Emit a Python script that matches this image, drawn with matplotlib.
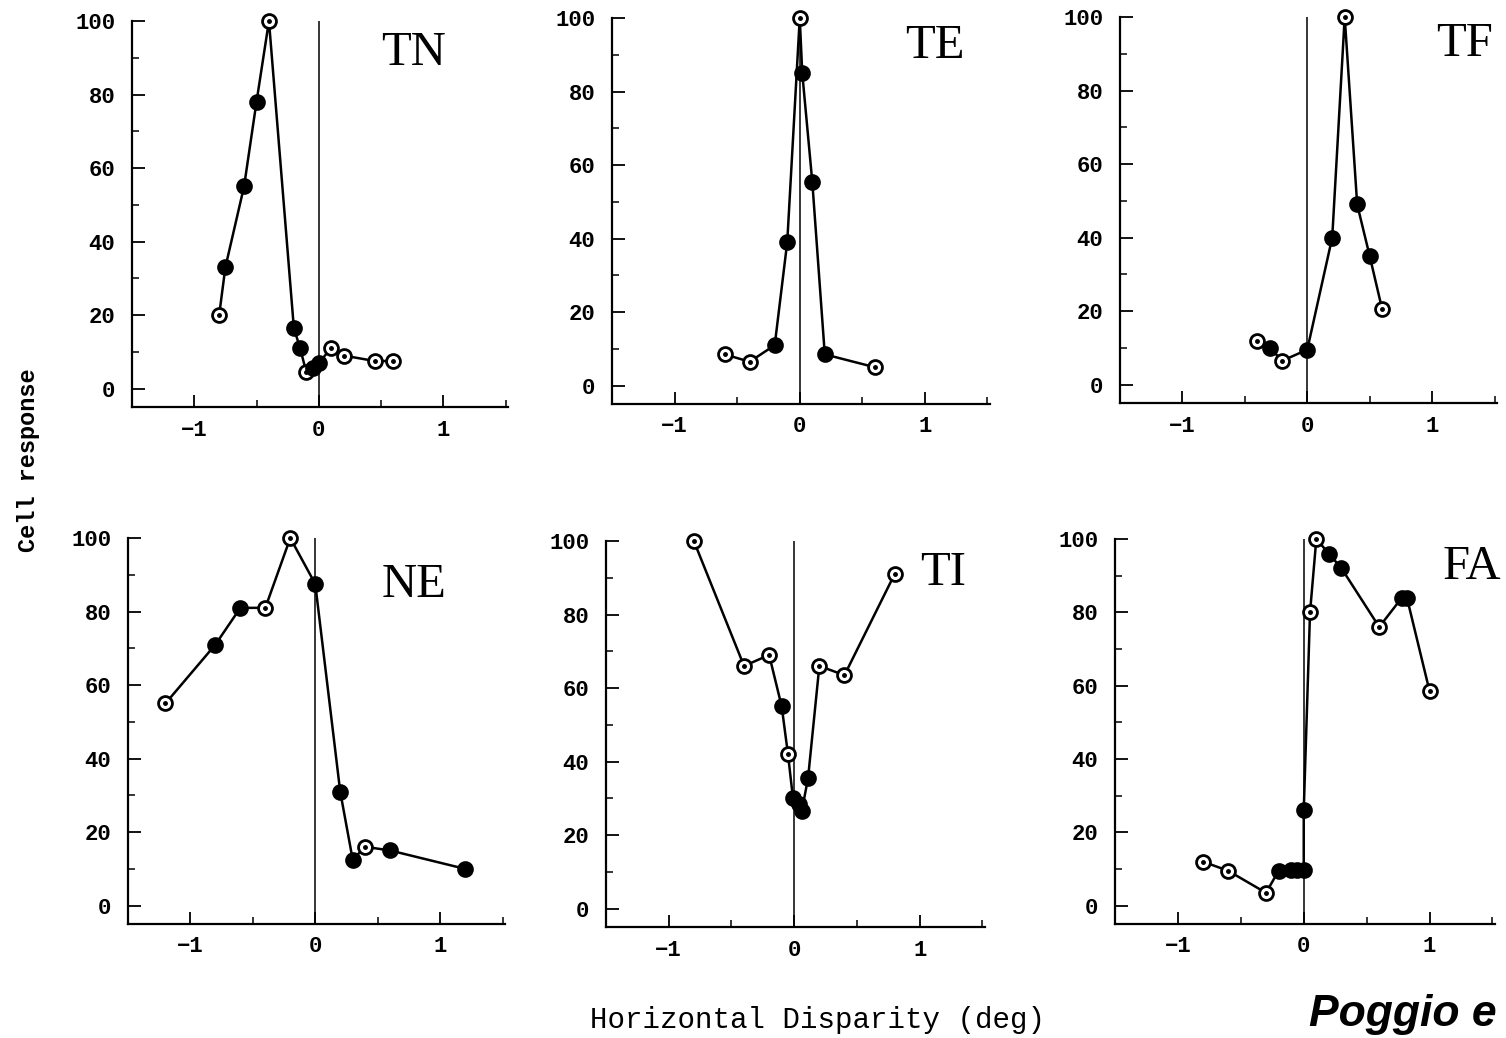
import matplotlib
matplotlib.use("Agg")
import matplotlib.pyplot as plt
from matplotlib.ticker import MultipleLocator

# TN
tn_x = [-0.80, -0.75, -0.60, -0.50, -0.40, -0.20, -0.15, -0.10, -0.05, 0.00, 0.10, 0.20, 0.45, 0.60]
tn_y = [20, 33, 55, 78, 100, 16.5, 11, 4.5, 5.5, 7, 11, 9, 7.5, 7.5]
tn_fill = [0, 1, 1, 1, 0, 1, 1, 0, 1, 1, 0, 0, 0, 0]
# TE
te_x = [-0.60, -0.40, -0.20, -0.10, 0.00, 0.02, 0.10, 0.20, 0.60]
te_y = [8.5, 6.5, 11, 39, 100, 85, 55.5, 8.5, 5]
te_fill = [0, 0, 1, 1, 0, 1, 1, 1, 0]
# TF
tf_x = [-0.40, -0.30, -0.20, 0.00, 0.20, 0.30, 0.40, 0.50, 0.60]
tf_y = [12, 10, 6.5, 9.5, 40, 100, 49, 35, 20.5]
tf_fill = [0, 1, 0, 1, 1, 0, 1, 1, 0]
# NE
ne_x = [-1.20, -0.80, -0.60, -0.40, -0.20, 0.00, 0.20, 0.30, 0.40, 0.60, 1.20]
ne_y = [55, 71, 81, 81, 100, 87.5, 31, 12.5, 16, 15, 10]
ne_fill = [0, 1, 1, 0, 0, 1, 1, 1, 0, 1, 1]
# TI
ti_x = [-0.80, -0.40, -0.20, -0.10, -0.05, -0.01, 0.04, 0.06, 0.11, 0.20, 0.40, 0.80]
ti_y = [100, 66, 69, 55, 42, 30, 28.5, 26.5, 35.5, 66, 63.5, 91]
ti_fill = [0, 0, 0, 1, 0, 1, 1, 1, 1, 0, 0, 0]
# FA
fa_x = [-0.80, -0.60, -0.30, -0.20, -0.10, -0.05, 0.00, 0.00, 0.05, 0.10, 0.20, 0.30, 0.60, 0.78, 0.82, 1.00]
fa_y = [12, 9.5, 3.5, 9.5, 9.7, 9.7, 9.7, 26, 80, 100, 96, 92, 76, 84, 84, 58.5]
fa_fill = [0, 0, 0, 1, 1, 1, 1, 1, 0, 0, 1, 1, 0, 1, 1, 0]

panels = [
    ("TN", tn_x, tn_y, tn_fill, (0.50, 88)),
    ("TE", te_x, te_y, te_fill, (0.84, 89)),
    ("TF", tf_x, tf_y, tf_fill, (1.03, 89.5)),
    ("NE", ne_x, ne_y, ne_fill, (0.53, 84)),
    ("TI", ti_x, ti_y, ti_fill, (1.00, 88)),
    ("FA", fa_x, fa_y, fa_fill, (1.10, 89)),
]

# panel boxes in pixels: left, top(=100), right, bottom spine
W, H = 1506, 1038
boxes = [
    (132, 21, 508, 407),
    (612, 18, 990, 404),
    (1120, 17, 1497, 403),
    (128, 538, 505, 924),
    (606, 541, 985, 927),
    (1115, 539, 1495, 924),
]

mono = ["Liberation Mono", "DejaVu Sans Mono"]
plt.rcParams["axes.unicode_minus"] = True

fig = plt.figure(figsize=(W / 100, H / 100), dpi=100)

for (name, xs, ys, fill, tpos), (l, t, r, b) in zip(panels, boxes):
    ax = fig.add_axes([l / W, 1 - b / H, (r - l) / W, (b - t) / H])
    ax.set_xlim(-1.5, 1.52)
    ax.set_ylim(-5, 100)
    ax.axvline(0, color="black", lw=1.1, zorder=1)
    ax.plot(xs, ys, color="black", lw=1.8, zorder=2, clip_on=False)
    ox = [x for x, f in zip(xs, fill) if not f]
    oy = [y for y, f in zip(ys, fill) if not f]
    fx = [x for x, f in zip(xs, fill) if f]
    fy = [y for y, f in zip(ys, fill) if f]
    ax.plot(ox, oy, "o", ms=10, mfc="white", mec="black", mew=2, zorder=3, clip_on=False)
    ax.plot(ox, oy, "o", ms=2.5, color="black", zorder=4, clip_on=False)
    ax.plot(fx, fy, "o", ms=10, mfc="black", mec="black", mew=2, zorder=3, clip_on=False)
    ax.text(tpos[0], tpos[1], name, family=["Liberation Serif", "DejaVu Serif"],
            fontsize=35, ha="left", va="baseline")

    for s in ["top", "right"]:
        ax.spines[s].set_visible(False)
    for s in ["left", "bottom"]:
        ax.spines[s].set_linewidth(1.6)
    ax.spines["left"].set_bounds(-5, 100)
    ax.set_xticks([-1, 0, 1])
    ax.set_xticklabels(["\u22121", "0", "1"])
    ax.xaxis.set_minor_locator(MultipleLocator(0.5))
    ax.set_yticks([0, 20, 40, 60, 80, 100])
    ax.yaxis.set_minor_locator(MultipleLocator(10))
    ax.tick_params(which="major", direction="in", length=9, width=1.3)
    ax.tick_params(which="minor", direction="in", length=5, width=1.1)
    ax.tick_params(axis="y", pad=12)
    ax.tick_params(axis="x", pad=9)
    for lab in ax.get_xticklabels() + ax.get_yticklabels():
        lab.set_family(mono)
        lab.set_fontsize(16)
        lab.set_fontweight("bold")

fig.text(0.019, 0.557, "Cell response", rotation=90, family=mono, fontsize=17,
         fontweight="bold", ha="center", va="center")
fig.text(0.543, 0.017, "Horizontal Disparity (deg)", family=mono, fontsize=21,
         ha="center", va="center")
fig.text(0.869, 0.003, "Poggio e", family=["Liberation Sans", "DejaVu Sans"],
         fontsize=32, fontweight="bold", style="italic", ha="left", va="bottom")

fig.savefig("out.png", dpi=100)
